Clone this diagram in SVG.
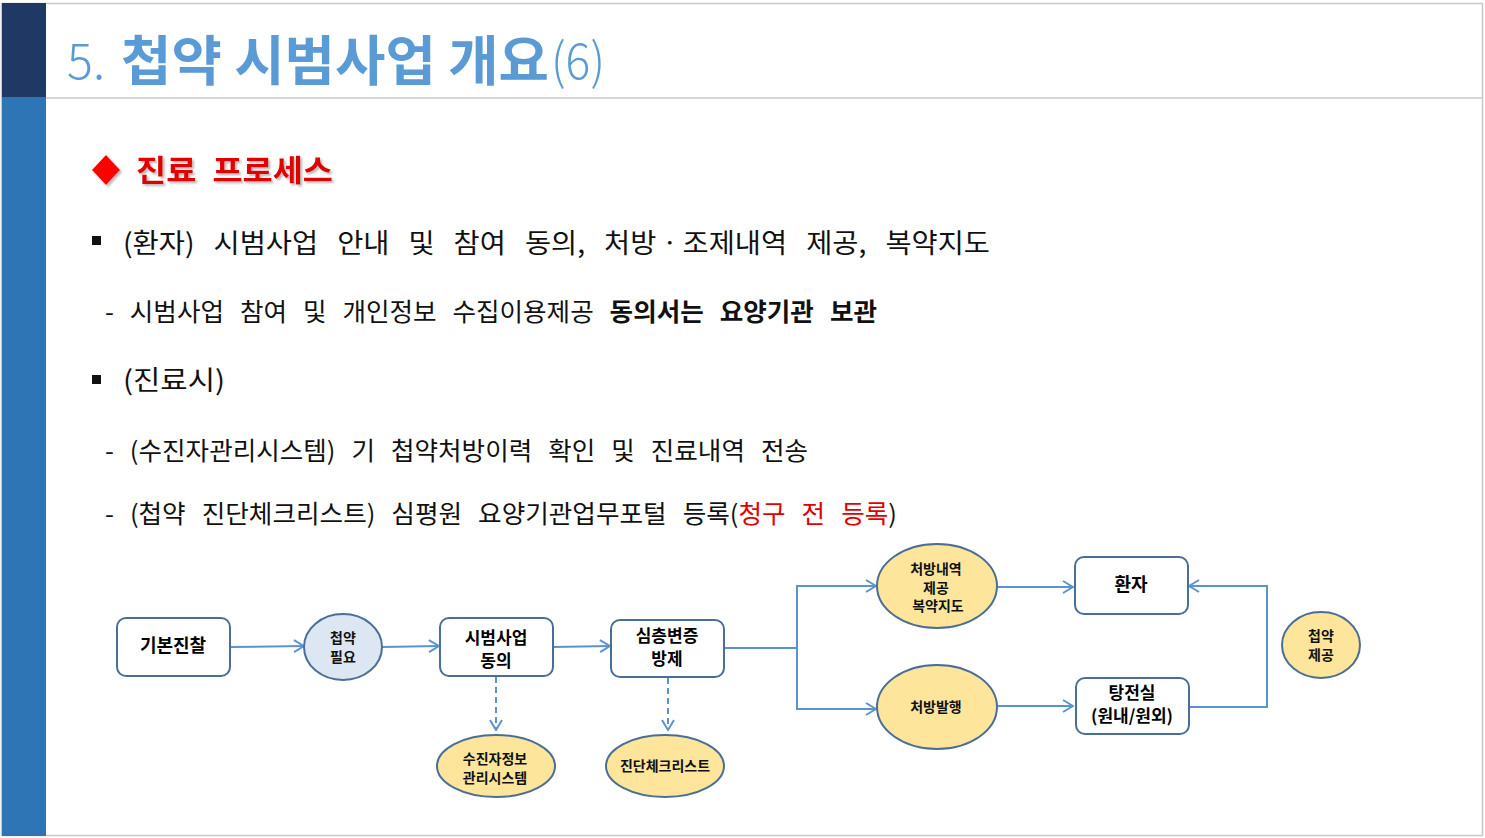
<svg xmlns="http://www.w3.org/2000/svg" width="1485" height="838" viewBox="0 0 1485 838">
<defs>
<style>
.k{font-family:"Noto Sans CJK KR","Malgun Gothic","Liberation Sans",sans-serif;}
.body{font-size:27px;fill:#111;}
.sub{font-size:25px;fill:#111;}
.box{fill:#fff;stroke:#4a6e95;stroke-width:2;}
.ell{fill:#fde59c;stroke:#4a6e95;stroke-width:2;}
.blu{fill:#dde7f3;stroke:#4a6e95;stroke-width:2;}
.bt{font-size:18px;font-weight:bold;fill:#000;text-anchor:middle;}
.bt2{font-size:17px;font-weight:bold;fill:#000;text-anchor:middle;}
.st{font-size:14px;font-weight:bold;fill:#111;text-anchor:middle;}
.ln{fill:none;stroke:#5b93cf;stroke-width:2;}
.dash{fill:none;stroke:#5b93cf;stroke-width:2;stroke-dasharray:6,4;}
</style>
<marker id="ar" viewBox="0 0 12 14" refX="11" refY="7" markerWidth="12" markerHeight="14" markerUnits="userSpaceOnUse" orient="auto">
<path d="M1,1 L11,7 L1,13" fill="none" stroke="#5b93cf" stroke-width="2"/>
</marker>
<filter id="sh" x="-5%" y="-20%" width="115%" height="150%">
<feDropShadow dx="2" dy="2" stdDeviation="1" flood-color="#888" flood-opacity="0.6"/>
</filter>
</defs>

<g id="frame">
<rect x="0" y="0" width="1485" height="838" fill="#fff"/>
<rect x="1.5" y="3.5" width="1481" height="832" fill="none" stroke="#c8c8c8" stroke-width="1.5"/>
<rect x="2" y="3" width="44" height="94" fill="#1f3864"/>
<rect x="2" y="97" width="44" height="739" fill="#2e75b6"/>
<line x1="46" y1="98" x2="1482" y2="98" stroke="#c8c8c8" stroke-width="1.5"/>
</g>

<g id="title" class="k" fill="#5b9bd5">
<text x="67" y="79" font-size="50" font-weight="300" textLength="38" lengthAdjust="spacingAndGlyphs">5.</text>
<text x="121" y="81" font-size="54" font-weight="bold" textLength="428" lengthAdjust="spacingAndGlyphs">첩약 시범사업 개요</text>
<text x="551" y="79" font-size="50" font-weight="300" textLength="54" lengthAdjust="spacingAndGlyphs">(6)</text>
</g>

<g id="heading" class="k" filter="url(#sh)">
<path d="M106,155 L120,170 L106,185 L92,170 Z" fill="#ff0000"/>
<text x="136" y="181" font-size="30" font-weight="bold" fill="#e00000" word-spacing="8" textLength="197" lengthAdjust="spacingAndGlyphs">진료 프로세스</text>
</g>

<g id="bullets" class="k">
<rect x="92" y="236" width="9" height="9" fill="#111"/>
<text class="body" x="123" y="253" word-spacing="12" textLength="867" lengthAdjust="spacingAndGlyphs">(환자) 시범사업 안내 및 참여 동의, 처방ㆍ조제내역 제공, 복약지도</text>
<text class="sub" x="105" y="321" word-spacing="10" textLength="772" lengthAdjust="spacingAndGlyphs">-  시범사업 참여 및 개인정보 수집이용제공 <tspan font-weight="bold">동의서는 요양기관 보관</tspan></text>
<rect x="92" y="375" width="9" height="9" fill="#111"/>
<text class="body" x="123" y="390" textLength="102" lengthAdjust="spacingAndGlyphs">(진료시)</text>
<text class="sub" x="105" y="460" word-spacing="10" textLength="703" lengthAdjust="spacingAndGlyphs">- (수진자관리시스템) 기 첩약처방이력 확인 및 진료내역 전송</text>
<text class="sub" x="105" y="523" word-spacing="10" textLength="792" lengthAdjust="spacingAndGlyphs">- (첩약 진단체크리스트) 심평원 요양기관업무포털 등록(<tspan fill="#e00000">청구 전 등록</tspan>)</text>
</g>

<g id="connectors">
<line class="ln" x1="230" y1="647" x2="304" y2="646" marker-end="url(#ar)"/>
<line class="ln" x1="382" y1="647" x2="439" y2="646" marker-end="url(#ar)"/>
<line class="ln" x1="553" y1="647" x2="610" y2="646" marker-end="url(#ar)"/>
<polyline class="ln" points="724,648 797,648"/>
<line class="ln" x1="797" y1="586" x2="797" y2="710"/>
<line class="ln" x1="796" y1="586" x2="876" y2="586" marker-end="url(#ar)"/>
<line class="ln" x1="796" y1="709" x2="876" y2="709" marker-end="url(#ar)"/>
<line class="ln" x1="997" y1="587" x2="1073" y2="587" marker-end="url(#ar)"/>
<line class="ln" x1="997" y1="706" x2="1073" y2="706" marker-end="url(#ar)"/>
<polyline class="ln" points="1189,707 1267,707 1267,586 1189,586" marker-end="url(#ar)"/>
<line class="dash" x1="496" y1="677" x2="496" y2="730" marker-end="url(#ar)"/>
<line class="dash" x1="668" y1="678" x2="668" y2="730" marker-end="url(#ar)"/>
</g>

<g id="n-basic" class="k">
<rect class="box" x="117" y="618" width="113" height="58" rx="9"/>
<text class="bt" x="173" y="652">기본진찰</text>
</g>
<g id="n-need" class="k">
<ellipse class="blu" cx="343" cy="647" rx="39" ry="33"/>
<text class="st" x="343" y="643">첩약<tspan x="343" y="662">필요</tspan></text>
</g>
<g id="n-consent" class="k">
<rect class="box" x="440" y="618" width="113" height="58" rx="9"/>
<text class="bt2" x="496" y="644">시범사업<tspan x="496" y="667">동의</tspan></text>
</g>
<g id="n-deep" class="k">
<rect class="box" x="611" y="620" width="113" height="57" rx="9"/>
<text class="bt2" x="667" y="642">심층변증<tspan x="667" y="665">방제</tspan></text>
</g>
<g id="n-system" class="k">
<ellipse class="ell" cx="496" cy="766" rx="59" ry="31"/>
<text class="st" x="495" y="764">수진자정보<tspan x="495" y="783">관리시스템</tspan></text>
</g>
<g id="n-check" class="k">
<ellipse class="ell" cx="665" cy="766" rx="59" ry="31"/>
<text class="st" x="665" y="771">진단체크리스트</text>
</g>
<g id="n-rx" class="k">
<ellipse class="ell" cx="937" cy="586" rx="60" ry="42"/>
<text class="st" x="936" y="574">처방내역<tspan x="936" y="593">제공</tspan><tspan x="938" y="611">복약지도</tspan></text>
</g>
<g id="n-issue" class="k">
<ellipse class="ell" cx="937" cy="707" rx="60" ry="42"/>
<text class="st" x="936" y="712">처방발행</text>
</g>
<g id="n-patient" class="k">
<rect class="box" x="1075" y="557" width="113" height="57" rx="9"/>
<text class="bt" x="1131" y="591">환자</text>
</g>
<g id="n-decoct" class="k">
<rect class="box" x="1076" y="678" width="113" height="56" rx="9"/>
<text class="bt2" x="1132" y="699">탕전실<tspan x="1132" y="722">(원내/원외)</tspan></text>
</g>
<g id="n-provide" class="k">
<ellipse class="ell" cx="1321" cy="645" rx="39" ry="33"/>
<text class="st" x="1321" y="641">첩약<tspan x="1321" y="660">제공</tspan></text>
</g>
</svg>
